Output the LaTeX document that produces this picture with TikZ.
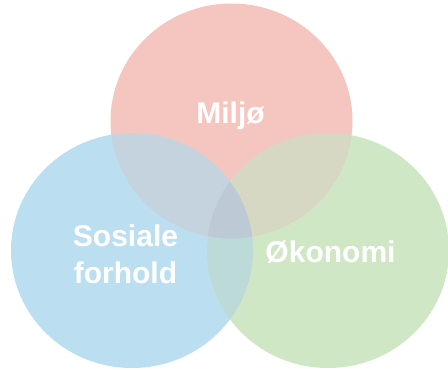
\documentclass[tikz,border=0pt]{standalone}
\usepackage{fontspec}
\usepackage{tikz}
\usetikzlibrary{positioning}
\newfontfamily\venntext{Liberation Sans}

\definecolor{miljocol}{HTML}{F5C5C0}
\definecolor{sosialcol}{HTML}{BBDFF1}
\definecolor{okonomicol}{HTML}{D0E7C5}
\definecolor{mscol}{HTML}{C4D3DD}
\definecolor{mocol}{HTML}{D6D8C3}
\definecolor{socol}{HTML}{BCDAD8}
\definecolor{allcol}{HTML}{BDCAD6}

\begin{document}
\begin{tikzpicture}[x=1pt, y=-1pt,
    setname/.style={text=white, font=\venntext\bfseries\fontsize{30}{37}\selectfont, align=center, inner sep=0pt}]
    \def\rx{121}
    \def\ry{117.5}
    \useasboundingbox (0,0) rectangle (448,370);
    \coordinate (M) at (231.5,121);
    \coordinate (S) at (132,250.5);
    \coordinate (O) at (328,250.5);

    % the three sets
    \fill[miljocol] (M) ellipse [x radius=\rx, y radius=\ry];
    \fill[sosialcol] (S) ellipse [x radius=\rx, y radius=\ry];
    \fill[okonomicol] (O) ellipse [x radius=\rx, y radius=\ry];

    % overlaps
    \begin{scope}
        \clip (M) ellipse [x radius=\rx, y radius=\ry];
        \fill[mscol] (S) ellipse [x radius=\rx, y radius=\ry];
        \fill[mocol] (O) ellipse [x radius=\rx, y radius=\ry];
    \end{scope}
    \begin{scope}
        \clip (S) ellipse [x radius=\rx, y radius=\ry];
        \fill[socol] (O) ellipse [x radius=\rx, y radius=\ry];
        \clip (O) ellipse [x radius=\rx, y radius=\ry];
        \fill[allcol] (M) ellipse [x radius=\rx, y radius=\ry];
    \end{scope}

    \node[setname] (miljo) at (230.5,116) {Milj\o};
    \node[setname] (sosial) at (125.5,254.5) {Sosiale\\forhold};
    \node[setname] (okonomi) at (330.5,252) {\O konomi};
\end{tikzpicture}
\end{document}
